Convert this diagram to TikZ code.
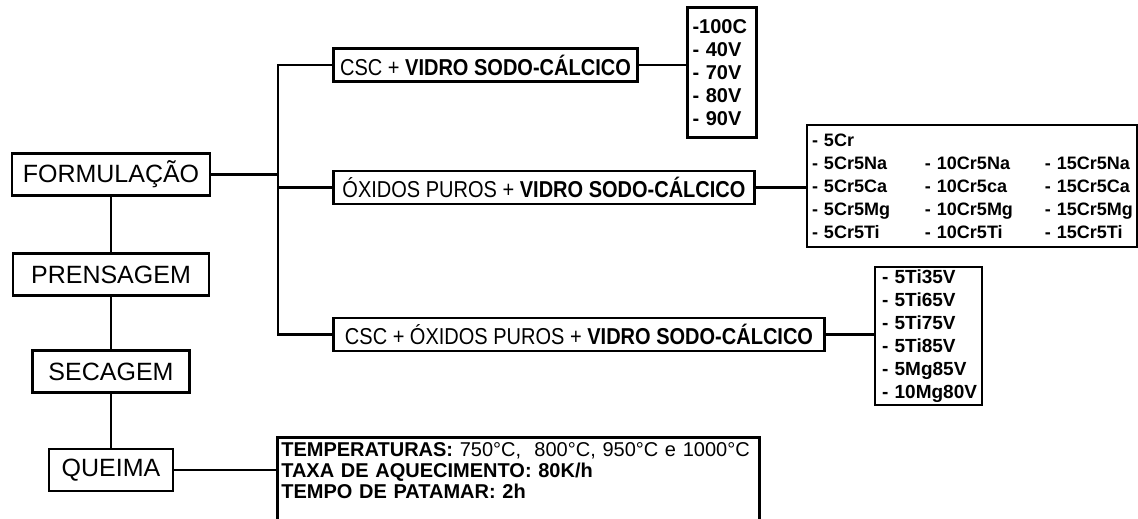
\documentclass[tikz,border=0pt]{standalone}
\usepackage{fontspec}
\setmainfont{Liberation Sans}
\newfontfamily\narrowfont[FakeStretch=0.87]{Liberation Sans}
\usepackage{tikz}
\usetikzlibrary{positioning}
\newcommand{\itm}[1]{\mbox{- #1}}
\newcommand{\trio}[3]{\makebox[113pt][l]{- #1}\makebox[120pt][l]{- #2}\itm{#3}}
\newcommand{\vidro}{\textbf{VIDRO SODO-CÁLCICO}}
\begin{document}
\begin{tikzpicture}[x=1pt,y=-1pt,
  bx/.style={draw,line width=2.6pt,inner sep=0pt,align=center},
  mB/.style={bx,minimum height=42pt,font=\fontsize{25}{28}\selectfont},
  sB/.style={bx,minimum height=33pt,font=\narrowfont\fontsize{23}{26}\selectfont},
  lB/.style={bx,align=left,inner xsep=5pt,font=\bfseries\fontsize{18}{23}\selectfont},
  tB/.style={bx,align=left,inner xsep=4pt,inner ysep=5pt,font=\fontsize{20}{21}\selectfont},
  ln/.style={line width=2.6pt}]
\useasboundingbox (0,0) rectangle (1138,519);
\fill[white] (0,0) rectangle (1138,519);
\def\M{111}\def\B{278}
\node[mB,minimum width=198pt] (form)   at (\M,174.5) {FORMULAÇÃO};
\node[mB,minimum width=196pt] (pren)   at (\M,274.5) {PRENSAGEM};
\node[mB,minimum width=157pt] (sec)    at (\M,371.5) {SECAGEM};
\node[mB,minimum width=124pt] (queima) at (\M,470)   {QUEIMA};
\node[sB,minimum width=304pt] (csc)    at (485.5,65)  {CSC + \vidro};
\node[sB,minimum width=421pt] (oxi)    at (544,187.5) {ÓXIDOS PUROS + \vidro};
\node[sB,minimum width=491pt] (cscoxi) at (579,334.5) {CSC + ÓXIDOS PUROS + \vidro};
\node[lB,text width=59pt,minimum height=130pt,font=\bfseries\fontsize{20}{23}\selectfont] (l1) at (722,72.5)
  {\mbox{-100C}\\\itm{40V}\\\itm{70V}\\\itm{80V}\\\itm{90V}};
\node[lB,text width=320pt,minimum height=122pt] (l2) at (972,186)
  {\itm{5Cr}\\\trio{5Cr5Na}{10Cr5Na}{15Cr5Na}\\\trio{5Cr5Ca}{10Cr5ca}{15Cr5Ca}\\
   \trio{5Cr5Mg}{10Cr5Mg}{15Cr5Mg}\\\trio{5Cr5Ti}{10Cr5Ti}{15Cr5Ti}};
\node[lB,text width=93pt,inner xsep=7pt,minimum height=138pt,font=\bfseries\fontsize{19}{23}\selectfont] (l3) at (928.5,336)
  {\itm{5Ti35V}\\\itm{5Ti65V}\\\itm{5Ti75V}\\\itm{5Ti85V}\\\itm{5Mg85V}\\\itm{10Mg80V}};
\node[tB,text width=474pt,anchor=north west] (temps) at (276,436)
  {\textbf{TEMPERATURAS:} 750°C,\ \ 800°C, 950°C e 1000°C\\
   \textbf{TAXA DE AQUECIMENTO: 80K/h}\\
   \textbf{TEMPO DE PATAMAR: 2h}\\\mbox{}};
\coordinate (bus) at (\B,0);
\draw[ln] (form.south) -- (pren.north);
\draw[ln] (pren.south) -- (sec.north);
\draw[ln] (sec.south) -- (queima.north);
\draw[ln] (form.east) -- (form.east -| bus);
\draw[ln] (csc.west) -| (bus |- cscoxi.west) -- (cscoxi.west);
\draw[ln] (oxi.west) -- (oxi.west -| bus);
\draw[ln] (csc.east) -- (csc.east -| l1.west);
\draw[ln] (oxi.east) -- (oxi.east -| l2.west);
\draw[ln] (cscoxi.east) -- (cscoxi.east -| l3.west);
\draw[ln] (queima.east) -- (queima.east -| temps.west);
\end{tikzpicture}
\end{document}
